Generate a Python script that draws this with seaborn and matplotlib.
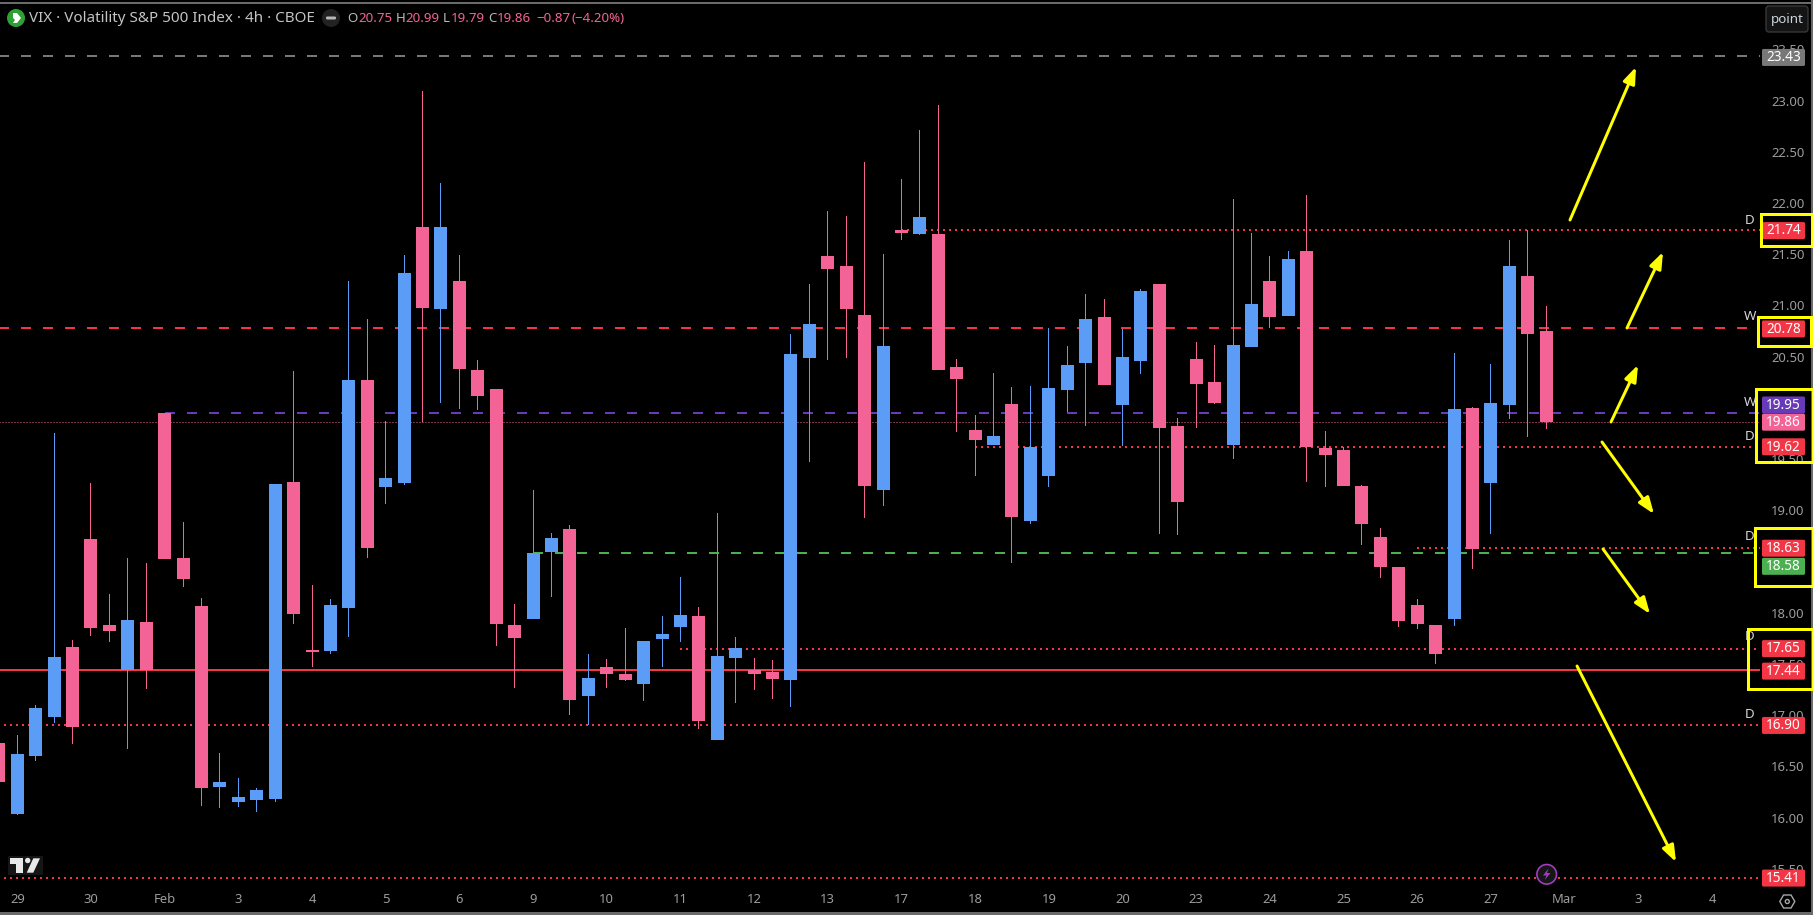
#!/usr/bin/env python3
import matplotlib
matplotlib.use("Agg")
import matplotlib.pyplot as plt
from matplotlib.patches import Circle, FancyBboxPatch, Polygon, Rectangle, RegularPolygon
import pandas as pd
import seaborn as sns

PINK = "#F36395"
BLUE = "#5B9CF6"
RED = "#F23645"
GREEN = "#4CAF50"
PURPLE = "#673AB7"
GREY = "#787878"
YELLOW = "#FFFF00"
AXIS_TEXT = "#9C9C9C"

# 4h candles, first one is cut off by the left edge
opens = [16.73, 16.04, 16.60, 16.98, 17.67, 18.72, 17.88, 17.44, 17.91, 19.95, 18.53, 18.07, 16.30, 16.15,
         16.17, 16.18, 19.28, 17.64, 17.63, 18.05, 20.27, 19.23, 19.27, 21.77, 20.96, 21.24, 20.37, 20.18,
         17.88, 17.94, 18.59, 18.82, 17.19, 17.47, 17.40, 17.30, 17.74, 17.86, 17.97, 16.76, 17.56, 17.44,
         17.42, 17.34, 20.49, 21.48, 21.38, 20.91, 19.20, 21.74, 21.70, 21.70, 20.40, 19.78, 19.64, 20.04,
         18.90, 19.33, 20.17, 20.44, 20.89, 20.03, 20.46, 21.21, 19.82, 20.48, 20.25, 19.64, 20.59, 21.24,
         20.90, 21.53, 19.61, 19.59, 19.24, 18.74, 18.45, 18.08, 17.88, 17.94, 20.00, 19.27, 20.03, 21.29,
         20.75]
highs = [16.73, 16.81, 17.10, 19.75, 17.73, 19.27, 18.18, 18.53, 18.49, 19.95, 18.89, 18.14, 16.63, 16.39,
         16.29, 19.26, 20.36, 18.27, 18.13, 21.24, 20.87, 19.87, 21.49, 23.09, 22.19, 21.49, 20.47, 20.18,
         18.09, 19.20, 18.78, 18.86, 17.60, 17.55, 17.85, 17.72, 17.97, 18.35, 18.06, 18.97, 17.76, 17.56,
         17.54, 20.72, 21.21, 21.92, 21.87, 22.40, 21.50, 22.23, 22.71, 22.96, 20.48, 19.93, 20.34, 20.20,
         20.21, 20.78, 20.60, 21.11, 21.06, 20.77, 21.16, 21.21, 19.90, 20.64, 20.61, 22.04, 21.71, 21.48,
         21.53, 22.08, 19.77, 19.62, 19.25, 18.83, 18.45, 18.13, 17.88, 20.54, 20.01, 20.43, 21.64, 21.74,
         20.99]
lows = [16.35, 16.03, 16.55, 16.92, 16.72, 17.77, 17.71, 16.67, 17.26, 18.52, 18.25, 16.11, 16.09, 16.10,
        16.06, 16.15, 17.89, 17.47, 17.60, 17.76, 18.53, 19.06, 19.25, 19.86, 20.05, 19.99, 19.98, 17.68,
        17.27, 17.94, 18.15, 17.00, 16.90, 17.27, 17.33, 17.14, 17.47, 17.71, 16.87, 16.76, 17.12, 17.25,
        17.16, 17.08, 19.47, 20.47, 20.49, 18.92, 19.04, 21.64, 21.69, 20.37, 19.76, 19.33, 19.64, 18.49,
        18.87, 19.23, 19.96, 19.82, 20.22, 19.63, 20.33, 18.77, 18.76, 19.80, 20.04, 19.50, 20.59, 20.78,
        20.90, 19.28, 19.23, 19.24, 18.66, 18.34, 17.86, 17.84, 17.50, 17.87, 18.43, 18.77, 19.89, 19.72,
        19.79]
closes = [16.35, 16.62, 17.07, 17.57, 16.88, 17.85, 17.82, 17.93, 17.44, 18.52, 18.33, 16.29, 16.35, 16.20,
          16.27, 19.26, 17.99, 17.62, 18.08, 20.27, 18.63, 19.32, 21.32, 20.97, 21.77, 20.38, 20.12, 17.89,
          17.75, 18.58, 18.73, 17.15, 17.36, 17.40, 17.34, 17.72, 17.79, 17.98, 16.94, 17.58, 17.66, 17.40,
          17.35, 20.53, 20.82, 21.36, 20.96, 19.24, 20.60, 21.71, 21.86, 20.37, 20.28, 19.69, 19.73, 18.93,
          19.62, 20.19, 20.42, 20.87, 20.22, 20.50, 21.14, 19.80, 19.08, 20.23, 20.05, 20.61, 21.01, 20.89,
          21.45, 19.62, 19.54, 19.24, 18.87, 18.45, 17.92, 17.89, 17.60, 19.99, 18.62, 20.05, 21.38, 20.72,
          19.86]

# horizontal levels: price, candle position it starts at
level_prices = [23.43, 21.74, 20.78, 19.95, 19.86, 19.62, 18.63, 18.58, 17.65, 17.44, 16.90, 15.41]
level_starts = [-1.05, 48, -1.05, 8, -1.05, 52, 76, 28, 36, -1.05, -0.72, -0.72]
level_colors = [GREY, RED, RED, PURPLE, PINK, RED, RED, GREEN, RED, RED, RED, RED]
level_kinds = ["dash", "dot", "dash", "dash", "fine", "dot", "dot", "dash", "dot", "solid", "dot", "dot"]
# labels get pushed apart on the price scale, shift in pixels
badge_shift = [1, 1, 1, -8, 0, 0, 0, 13, 0, 1, 0, 0]

price_ticks = [15.5, 16.0, 16.5, 17.0, 17.5, 18.0, 18.5, 19.0, 19.5, 20.0, 20.5, 21.0, 21.5, 22.0, 22.5, 23.0, 23.5]
time_labels = ["29", "30", "Feb", "3", "4", "5", "6", "9", "10", "11", "12", "13", "17", "18", "19", "20",
               "23", "24", "25", "26", "27", "Mar", "3", "4"]

# D / W tags left of the price scale: text, y
tag_text = ["D", "W", "W", "D", "D", "D", "D"]
tag_y = [220, 317, 402, 437, 537, 637, 714]

yellow_boxes = [(1761, 214, 51, 32), (1758, 317, 53, 29), (1756, 389, 57, 73), (1755, 528, 58, 58), (1748, 629, 65, 60)]
yellow_arrows = [((1570, 220), (1636, 67)), ((1627, 328), (1663, 252)), ((1611, 422), (1638, 365)),
                 ((1602, 442), (1654, 514)), ((1603, 549), (1650, 614)), ((1577, 666), (1676, 862))]

W, H = 1813, 915
PX = 0.72  # one pixel in points at dpi 100
CHART_R, CHART_B = 1760, 885
STEP, X0 = 18.42, 17.3

sns.set_theme(style="dark", rc={"lines.scale_dashes": False, "axes.facecolor": "black", "figure.facecolor": "black"})
plt.rcParams["font.family"] = ["Noto Sans", "DejaVu Sans"]

fig = plt.figure(figsize=(W / 100, H / 100), dpi=100)
ax = fig.add_axes([0, 1 - CHART_B / H, CHART_R / W, CHART_B / H])

df = pd.DataFrame({"idx": range(-1, len(opens) - 1), "o": opens, "h": highs, "l": lows, "c": closes})
df["top"] = df[["o", "c"]].max(axis=1)
df["bot"] = df[["o", "c"]].min(axis=1)
df["color"] = [BLUE if c >= o else PINK for o, c in zip(df.o, df.c)]

for color, part in df.groupby("color"):
    sns.barplot(x=part.idx, y=part.h - part.l, bottom=part.l, native_scale=True, color=color, saturation=1,
                width=1 / STEP, errorbar=None, linewidth=0, antialiased=False, zorder=5, ax=ax)
    sns.barplot(x=part.idx, y=part.top - part.bot, bottom=part.bot, native_scale=True, color=color, saturation=1,
                width=13 / STEP, errorbar=None, linewidth=0, antialiased=False, zorder=6, ax=ax)

styles = {
    "dash": dict(lw=2 * PX, ls=(0, (10 * PX, 12 * PX))),
    "dot": dict(lw=2 * PX, ls=(0, (2 * PX, 4 * PX))),
    "fine": dict(lw=1 * PX, ls=(0, (1 * PX, 2 * PX))),
    "solid": dict(lw=2 * PX, ls="-"),
}
for price, start, color, kind in zip(level_prices, level_starts, level_colors, level_kinds):
    ax.plot([start, 100], [price, price], color=color, dash_capstyle="butt", zorder=3, **styles[kind])

ax.set_xlim((0 - X0) / STEP, (CHART_R - X0) / STEP)
ax.set_ylim(23 - (CHART_B - 100.5) / 102.45, 23 + 100.5 / 102.45)
ax.set_xticks(range(0, 4 * len(time_labels), 4))
ax.set_xticklabels(time_labels)
ax.set_yticks(price_ticks)
ax.set_yticklabels([f"{p:.2f}" for p in price_ticks])
ax.yaxis.tick_right()
ax.tick_params(axis="y", length=0, pad=8, labelsize=9.4, labelcolor=AXIS_TEXT)
ax.tick_params(axis="x", length=0, pad=5.5, labelsize=9.4, labelcolor=AXIS_TEXT)
ax.set_xlabel("")
ax.set_ylabel("")
ax.grid(False)
for spine in ax.spines.values():
    spine.set_visible(False)

# everything on top of the chart, in pixel coordinates
over = fig.add_axes([0, 0, 1, 1])
over.set_xlim(0, W)
over.set_ylim(H, 0)
over.axis("off")
over.patch.set_alpha(0)


def round_box(x, y, w, h, r, face, edge="none", lw=0.0, zorder=3):
    over.add_patch(FancyBboxPatch((x + r, y + r), w - 2 * r, h - 2 * r, boxstyle=f"round,pad={r},rounding_size={r}",
                                  facecolor=face, edgecolor=edge, linewidth=lw, zorder=zorder))


# window frame
over.add_patch(Rectangle((0, 2), W, 2, color="#6A6A6A", lw=0))
over.add_patch(Rectangle((0, 912), W, 3, color="#6A6A6A", lw=0))
over.add_patch(Rectangle((1810.5, 0), 2.5, H, color="#6A6A6A", lw=0))

# legend row
over.add_patch(Circle((16, 18), 9, color="#2FA033", lw=0))
over.add_patch(Polygon([(13, 13), (17, 13), (21, 18), (17, 23), (13, 23), (15, 20), (13, 18)], color="white", lw=0))
over.text(29, 18, "VIX · Volatility S&P 500 Index · 4h · CBOE", color="#C4C4C4", fontsize=10.95, va="center", ha="left")
over.add_patch(Circle((331, 18), 9, color="#222222", lw=0))
round_box(326, 16.5, 10, 3, 1.2, "#B8B8B8")
for x, s, col in [(347, "O", "#B8B8B8"), (358, "20.75", PINK), (396, "H", "#B8B8B8"), (405, "20.99", PINK),
                  (443, "L", "#B8B8B8"), (451, "19.79", PINK), (488, "C", "#B8B8B8"), (497, "19.86", PINK),
                  (536, "−0.87", PINK), (572, "(−4.20%)", PINK)]:
    over.text(x, 18.5, s, color=col, fontsize=9.6, va="center", ha="left")

round_box(1766, 6, 42, 26, 3, "#141414", edge="#3C3C3C", lw=0.9)
over.text(1787, 19, "point", color="#CBD5DD", fontsize=9.6, va="center", ha="center")

# price badges
fig.canvas.draw()
for price, color, shift in zip(level_prices, level_colors, badge_shift):
    y = H - ax.transData.transform((0, price))[1] + shift
    round_box(1762, y - 8.5, 43, 17, 1.5, color, zorder=4)
    over.text(1783.5, y + 0.3, f"{price:.2f}", color="white", fontsize=9.8, fontweight="semibold", va="center", ha="center", zorder=5)

for s, y in zip(tag_text, tag_y):
    over.text(1750, y, s, color="#D6D6D6", fontsize=9.6, fontweight="semibold", va="center", ha="center", zorder=2)

for x, y, w, h in yellow_boxes:
    over.add_patch(Rectangle((x, y), w, h, fill=False, edgecolor=YELLOW, linewidth=3 * PX, zorder=6))
for start, tip in yellow_arrows:
    over.annotate("", xy=tip, xytext=start, zorder=6,
                  arrowprops=dict(arrowstyle="-|>,head_length=0.75,head_width=0.28", color=YELLOW, lw=3 * PX,
                                  shrinkA=0, shrinkB=0, mutation_scale=13))

# lightning marker
over.add_patch(Circle((1546.7, 874.3), 9.8, facecolor="#161616", edgecolor="#A13CC0", linewidth=1.2, zorder=4))
over.add_patch(Polygon([(1548.5, 868.5), (1543, 875.5), (1546.5, 875.5), (1544.8, 880), (1550.5, 873), (1547, 873)],
                       color="#A13CC0", lw=0, zorder=5))

# settings icon
over.add_patch(RegularPolygon((1787.3, 901.5), 6, radius=7.5, orientation=0.5236, fill=False, edgecolor="#A8A8A8", linewidth=1.0))
over.add_patch(Circle((1787.3, 901.5), 2, fill=False, edgecolor="#A8A8A8", linewidth=1.0))

# logo
round_box(8, 856, 35, 19, 1, "#151515")
over.add_patch(Polygon([(10, 858.3), (23.3, 858.3), (23.3, 872.7), (16, 872.7), (16, 864.3), (10, 864.3)], color="#E8E8E8", lw=0, zorder=4))
over.add_patch(Circle((27.7, 860.5), 2.7, color="#E8E8E8", lw=0, zorder=4))
over.add_patch(Polygon([(33.3, 858.3), (40, 858.3), (33.3, 872.7), (26.7, 872.7)], color="#E8E8E8", lw=0, zorder=4))

fig.savefig("out.png", dpi=100, facecolor="black")
plt.close(fig)
